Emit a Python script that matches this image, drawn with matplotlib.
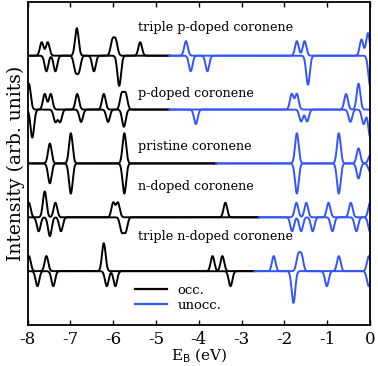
import numpy as np
import matplotlib
matplotlib.use('Agg')
import matplotlib.pyplot as plt

plt.rcParams['font.family'] = 'DejaVu Serif'
plt.rcParams['axes.unicode_minus'] = False

# ------------------------------------
# data: (energy eV, height) for spin up / spin down peaks
# ------------------------------------
names = ['triple p-doped coronene', 'p-doped coronene', 'pristine coronene',
         'n-doped coronene', 'triple n-doped coronene']
offsets = [4, 3, 2, 1, 0]
# energy where occupied (black) turns to unoccupied (blue)
homo_lumo_cut = [-4.7, -4.7, -3.6, -2.6, -2.7]

tp_up = [(-7.67, 0.25), (-7.53, 0.25), (-6.85, 0.51), (-6.02, 0.27), (-5.94, 0.27),
         (-5.37, 0.25), (-4.30, 0.27), (-1.71, 0.27), (-1.53, 0.27), (-0.20, 0.30),
         (-0.05, 0.42)]
tp_dn = [(-7.56, 0.29), (-7.35, 0.29), (-6.88, 0.27), (-6.80, 0.27), (-6.45, 0.29),
         (-5.86, 0.56), (-4.19, 0.29), (-3.80, 0.29), (-1.45, 0.54), (0.0, 0.55)]

p_up = [(-7.97, 0.48), (-7.60, 0.29), (-7.46, 0.29), (-6.84, 0.29), (-6.22, 0.29),
        (-5.80, 0.29), (-5.71, 0.29), (-1.83, 0.29), (-1.71, 0.29), (-0.56, 0.29),
        (-0.27, 0.48)]
p_dn = [(-7.89, 0.52), (-7.35, 0.23), (-7.24, 0.23), (-6.75, 0.23), (-6.12, 0.23),
        (-5.75, 0.32), (-4.07, 0.27), (-1.61, 0.22), (-1.47, 0.22), (-0.46, 0.23),
        (-0.15, 0.27), (0.0, 0.50)]

pr_up = [(-7.48, 0.37), (-6.99, 0.56), (-5.74, 0.56), (-1.71, 0.56), (-0.73, 0.56),
         (-0.27, 0.28), (0.0, 0.15)]
pr_dn = [(-7.48, 0.37), (-6.99, 0.56), (-5.74, 0.56), (-1.71, 0.56), (-0.73, 0.56),
         (-0.27, 0.28), (0.0, 0.15)]

n_up = [(-7.97, 0.27), (-7.60, 0.48), (-7.35, 0.27), (-6.00, 0.27), (-5.89, 0.27),
        (-3.38, 0.27), (-1.72, 0.27), (-1.49, 0.27), (-0.97, 0.27), (-0.45, 0.27),
        (0.0, 0.27)]
n_dn = [(-7.74, 0.26), (-7.48, 0.35), (-7.22, 0.26), (-5.80, 0.26), (-5.71, 0.26),
        (-1.82, 0.26), (-1.61, 0.26), (-1.34, 0.26), (-0.88, 0.26), (-0.32, 0.26),
        (0.0, 0.27)]

tn_up = [(-7.97, 0.28), (-7.56, 0.28), (-6.22, 0.52), (-3.68, 0.28), (-3.45, 0.28),
         (-2.25, 0.28), (-1.68, 0.28), (-1.60, 0.28), (-0.73, 0.28), (-0.03, 0.28)]
tn_dn = [(-7.77, 0.28), (-7.40, 0.28), (-6.15, 0.28), (-5.95, 0.28), (-3.26, 0.28),
         (-1.79, 0.59), (-1.01, 0.28), (-0.03, 0.28)]

spin_up = [tp_up, p_up, pr_up, n_up, tn_up]
spin_dn = [tp_dn, p_dn, pr_dn, n_dn, tn_dn]

occ_color = 'black'
unocc_color = '#3355ff'
sigma = 0.042


def spectrum(e, peaks):
    s = np.zeros_like(e)
    for e0, h in peaks:
        s += h * np.exp(-0.5 * ((e - e0) / sigma) ** 2)
    return s


# ----------------------------------------------
# -------------------PLOT-----------------------
# ----------------------------------------------
fig = plt.figure(figsize=(3.78, 3.66), dpi=100)
ax = fig.add_axes([0.073, 0.112, 0.906, 0.883])

e = np.linspace(-8.2, 0.2, 3000)
for name, off, cut, up, dn in zip(names, offsets, homo_lumo_cut, spin_up, spin_dn):
    occ = e <= cut
    unocc = e >= cut
    for sign, peaks in [(1, up), (-1, dn)]:
        y = off + sign * spectrum(e, peaks)
        ax.plot(e[occ], y[occ], color=occ_color, lw=1.4)
        ax.plot(e[unocc], y[unocc], color=unocc_color, lw=1.4)

text_y = [4.52, 3.29, 2.31, 1.57, 0.65]
for name, ty in zip(names, text_y):
    ax.text(-5.43, ty, name, fontsize=9.2, va='center', ha='left')

ax.plot([], [], color=occ_color, lw=1.6, label='occ.')
ax.plot([], [], color=unocc_color, lw=1.6, label='unocc.')
ax.legend(loc='lower left', bbox_to_anchor=(0.28, 0.005), frameon=False,
          fontsize=9.5, handlelength=2.4, labelspacing=0.15)

ax.set_xlim(-8, 0)
ax.set_ylim(-1, 5)
ax.set_xticks(range(-8, 1))
ax.set_xticklabels([str(i) for i in range(-8, 1)])
ax.set_yticks([])
ax.tick_params(axis='x', direction='in', top=True, labelsize=12, length=3.5,
               width=1.0, pad=4)
ax.set_xlabel('E$_\\mathrm{B}$ (eV)', fontsize=11, labelpad=-1)
ax.set_ylabel('Intensity (arb. units)', fontsize=13.5, labelpad=2)
for sp in ax.spines.values():
    sp.set_linewidth(1.3)

plt.savefig('out.png', dpi=100)
